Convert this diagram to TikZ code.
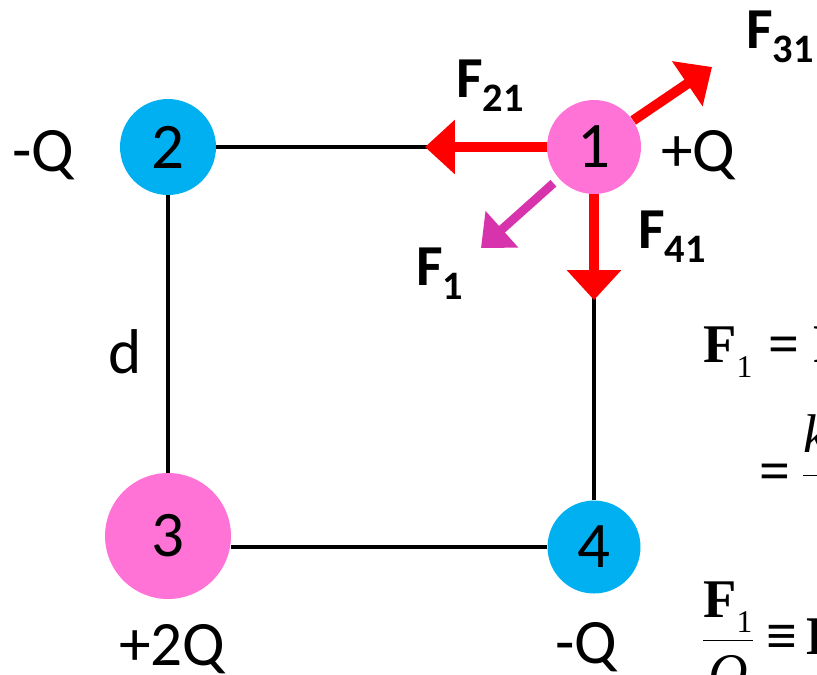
\documentclass[tikz,border=0pt]{standalone}
\usepackage{fix-cm}
\usepackage{amsmath}
\usepackage{fontspec}
\setmainfont{Carlito}
\newfontfamily\tnr{Liberation Serif}
\usetikzlibrary{arrows.meta}
\definecolor{ChargePink} {HTML}{FF73D7}
\definecolor{ChargeBlue} {HTML}{00B0F0}
\definecolor{ForceRed}   {HTML}{FF0000}
\definecolor{NetMagenta} {HTML}{D633AC}
\newcommand{\force}[1]{F\raisebox{-8.5pt}{\fontsize{23}{23}\selectfont\bfseries #1}}
\newcommand{\vecF}[1]{\text{\tnr\bfseries F\raisebox{-9pt}{\mdseries\fontsize{18}{18}\selectfont #1}}}
\newcommand{\vecE}[1]{\text{\tnr\bfseries E\raisebox{-9pt}{\mdseries\fontsize{18}{18}\selectfont #1}}}
\newcommand{\tn}[1]{\text{\tnr #1}}

\begin{document}
\begin{tikzpicture}[
  x=0.02cm, y=-0.02cm,
  charge/.style = {circle, minimum size=#1, inner sep=0pt,
                   font=\fontsize{37}{37}\selectfont},
  edge/.style   = {line width=2.3pt, black},
  farr/.style   = {-{Triangle[length=17pt, width=30pt]}, line width=5.7pt, ForceRed},
  narr/.style   = {-{Triangle[length=16pt, width=27pt]}, line width=5pt, NetMagenta},
  qlbl/.style   = {anchor=base west, inner sep=0pt, font=\fontsize{36}{36}\selectfont},
  flbl/.style   = {anchor=base west, inner sep=0pt, font=\fontsize{33}{33}\selectfont\bfseries},
  eqn/.style    = {anchor=base west, inner sep=0pt, font=\fontsize{31}{31}\selectfont},
]
\useasboundingbox (0,0) rectangle (817,674);
\clip (0,0) rectangle (817,674);
% charges
\node[charge=1.88cm, fill=ChargePink] (n1) at (594,147) {1};
\node[charge=1.92cm, fill=ChargeBlue] (n2) at (168,147) {2};
\node[charge=2.52cm, fill=ChargePink] (n3) at (168,536) {3};
\node[charge=1.86cm, fill=ChargeBlue] (n4) at (594,547) {4};
% square
\draw[edge] (n2) -- (n1);
\draw[edge] (n2) -- (n3);
\draw[edge] (n1) -- (n4);
\draw[edge] (n3.east |- n4) -- (n4);
% forces on 1
\coordinate (t21) at (425,147);
\coordinate (t31) at (712,67);
\coordinate (t41) at (594,300);
\coordinate (t1)  at (481,248);
\draw[farr] (n1) -- (t21);
\draw[farr] (n1) -- (t31);
\draw[farr] (n1) -- (t41);
\draw[narr, shorten <=4pt] (n1) -- (t1);
\node[flbl] (f21) at (456,97)  {\force{21}};
\node[flbl] (f31) at (746,48)  {\force{31}};
\node[flbl] (f41) at (638,248) {\force{41}};
\node[flbl] (f1)  at (416,285) {\force{1}};
% charge values
\node[qlbl] (q2) at (12,171)  {-Q};
\node[qlbl] (q1) at (661,171) {+Q};
\node[qlbl] (q3) at (119,665) {+2Q};
\node[qlbl] (q4) at (555,663) {-Q};
\node[qlbl] (dd) at (108,373) {d};
% equations
\node[eqn] (eq1) at (703,362)
  {$\vecF{1}\hspace{9pt}\tn{\bfseries =}\hspace{8pt}\vecF{21}+\vecF{31}+\vecF{41}$};
\node[eqn] (eq2) at (759,489)
  {$\tn{\bfseries =}\hspace{6pt}\dfrac{\tn{\itshape k\,Q}^2}{\tn{\itshape d}^2}$};
\node[eqn] (eq3) at (701,654)
  {$\dfrac{\vecF{1}}{\tn{\itshape Q}}\hspace{7pt}\tn{\bfseries ≡}\hspace{5pt}\vecE{1}$};
\end{tikzpicture}
\end{document}
